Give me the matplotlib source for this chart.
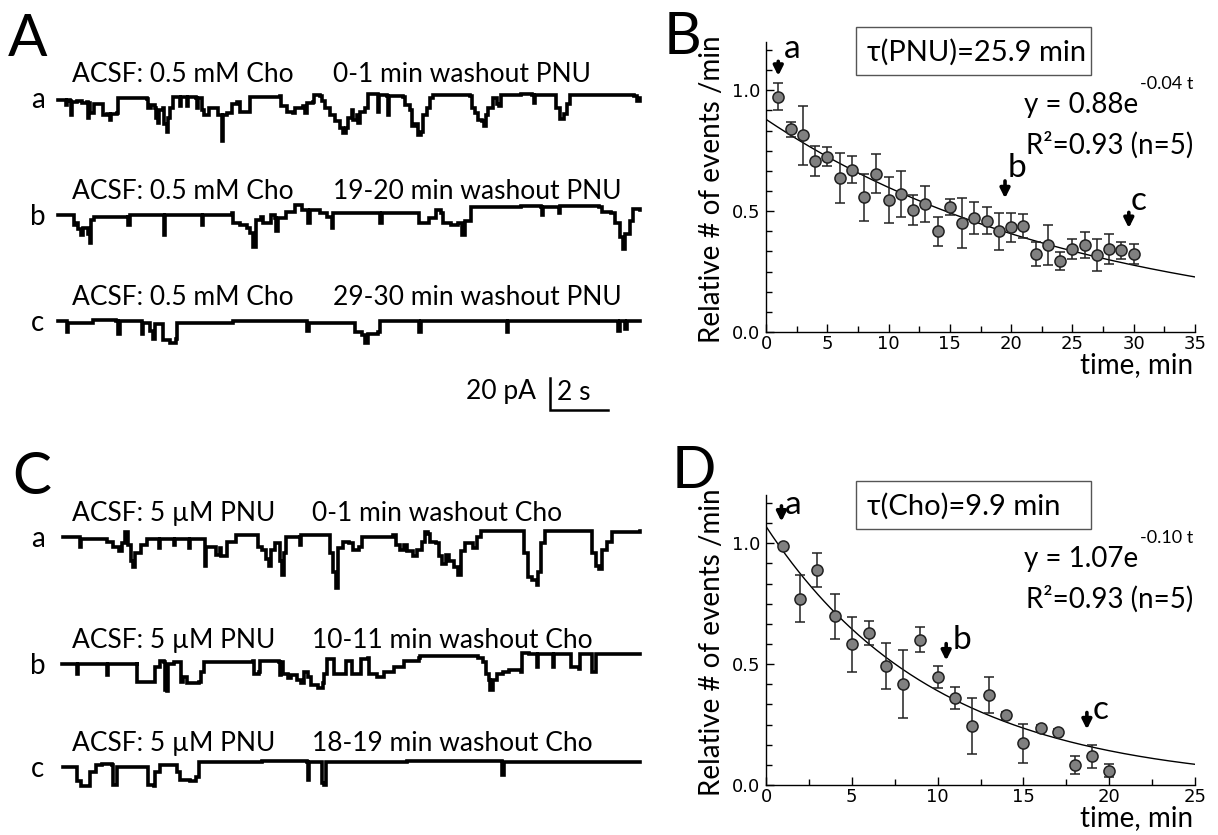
import numpy as np
import matplotlib
matplotlib.use("Agg")
import matplotlib.pyplot as plt
from matplotlib.ticker import MultipleLocator, AutoMinorLocator
from matplotlib.patches import Rectangle

# ---------------- data ----------------
# current traces, (time s, current pA), 0 = local baseline
trace_Aa = [(0.0, -1), (0.24, -1), (0.27, -4.5), (0.32, -1), (0.41, -2), (0.44, -10.5), (0.49, -2.5),
            (0.64, -2), (0.82, -3), (0.98, -2.5), (1.02, -12.5), (1.07, -3), (1.1, -9.5), (1.21, -9.5),
            (1.25, -4), (1.5, -4), (1.53, -10.5), (1.67, -10), (1.79, -13.5), (1.82, -10), (2.02, -9.5),
            (2.07, 0), (3.05, -0.5), (3.08, -6.5), (3.2, -4.5), (3.33, -6), (3.37, -12.5), (3.45, -15.5),
            (3.48, -7.5), (3.6, -6.5), (3.64, -16.5), (3.73, -21), (3.79, -12.5), (3.85, -6), (3.96, 0.5),
            (4.17, 0.5), (4.19, -5), (4.23, 0.5), (4.42, 0.5), (4.45, -5), (4.48, 0.5), (4.74, 0),
            (4.76, -6), (4.8, 0), (4.94, -0.5), (4.96, -7.5), (5.0, -10.5), (5.14, -10.5), (5.18, -6),
            (5.45, -6), (5.51, -10.5), (5.63, -27), (5.68, -10.5), (5.8, -9.5), (5.97, -4), (6.14, -2.5),
            (6.25, -8.5), (6.5, -9), (6.6, 0.5), (7.63, 1), (7.65, -5), (7.86, -8.5), (8.09, -9.5),
            (8.14, -6), (8.43, -5), (8.49, -9.5), (8.54, -3), (8.75, -2.5), (8.8, 2), (9.0, 1), (9.06, -2),
            (9.18, -6), (9.35, -10.5), (9.52, -14.5), (9.69, -19), (9.81, -22), (9.9, -19), (9.98, -12.5),
            (10.09, -7.5), (10.15, -13.5), (10.26, -10.5), (10.32, -15.5), (10.38, -8.5), (10.55, -6),
            (10.67, 2.5), (10.95, 2.5), (10.99, -8.5), (11.03, 2), (11.3, 1.5), (11.33, -10.5), (11.38, 1),
            (11.87, 0.5), (11.92, -4.5), (12.1, -7.5), (12.16, -17.5), (12.27, -16.5), (12.38, -23),
            (12.49, -21), (12.56, -10.5), (12.67, -6), (12.78, 0), (12.9, 2), (14.16, 1.5), (14.22, -6),
            (14.34, -9.5), (14.45, -13.5), (14.57, -14.5), (14.64, -17.5), (14.71, -10.5), (14.79, -6),
            (14.9, -6), (14.96, 0), (15.07, -4), (15.17, -5), (15.24, 2), (15.9, 2.5), (16.3, 2),
            (16.35, -3), (16.4, 2), (17.0, 2), (17.1, -6), (17.25, -13), (17.4, -10), (17.5, -4),
            (17.6, 2), (19.8, 1.5), (19.9, -2), (20.0, 0)]
trace_Ab = [(0.0, 0), (0.53, 0), (0.55, -6), (0.64, -5), (0.7, -9), (0.8, -12.5), (0.86, -8), (1.03, -12),
            (1.1, -17.5), (1.15, -3), (1.25, -1), (2.4, 0), (2.42, -6), (2.46, 0), (3.62, 0), (3.64, -12.5),
            (3.68, 0), (4.93, 0), (4.95, -6), (4.99, 0), (5.97, 1), (6.03, -5), (6.25, -6), (6.48, -8),
            (6.6, -11), (6.71, -20), (6.8, -3), (6.97, -1), (7.05, -5), (7.28, -5), (7.33, 0), (7.45, -2),
            (7.5, -10), (7.56, -2), (7.85, 2), (8.07, 2), (8.15, 6), (8.34, 6), (8.38, 3), (8.54, 3),
            (8.6, -5), (8.66, 3), (8.95, 3), (9.0, 1), (9.24, -1), (9.4, -8), (9.46, 1), (11.06, 1),
            (11.08, -5), (11.12, 1), (12.36, 1), (12.4, -5), (12.67, -5), (12.74, -2), (12.95, -2),
            (13.0, 3), (13.16, 1), (13.24, -5), (13.5, -6), (13.75, -5), (13.9, -12.5), (14.0, -4),
            (14.1, -4), (14.2, 5), (15.9, 5.5), (16.6, 5), (16.63, 0), (16.66, 5), (17.2, 5.5),
            (17.23, 1), (17.26, 5.5), (18.6, 5), (18.7, 2), (19.0, 1), (19.15, -5), (19.3, -14),
            (19.4, -21), (19.5, -12), (19.65, -4), (19.75, 4), (20.0, 3)]
trace_Ac = [(0.0, 0), (0.2, 0), (0.3, -7), (0.36, -1), (1.2, 0.5), (2.0, 0), (2.07, -8), (2.12, 0),
            (2.83, 0), (2.87, -8), (2.92, -1), (3.09, -1), (3.15, -6), (3.28, -11), (3.33, -2),
            (3.57, -2), (3.62, -12), (3.85, -14), (4.05, -11), (4.1, -1), (6.0, 0), (8.55, -1),
            (8.57, -6), (8.62, -1), (10.2, -1), (10.22, -7), (10.45, -9), (10.55, -14), (10.65, -8),
            (11.0, -7), (11.07, 0), (12.4, 0), (12.42, -7), (12.46, 0), (15.42, 0), (15.44, -7),
            (15.48, 0), (19.2, 0), (19.25, -6), (19.3, 0), (19.45, 0), (19.5, -5), (19.55, 0), (20.0, 0)]
trace_Ca = [(0.18, 0), (0.75, -1), (0.77, -6), (0.8, -1), (1.67, -3), (1.83, -3), (1.9, -6), (2.1, -9),
            (2.2, -4), (2.3, 3), (2.4, -5), (2.5, -15), (2.57, -19), (2.65, -10), (2.86, -5), (3.05, -1),
            (3.45, -1), (3.47, -7), (3.5, -1), (3.96, -1), (3.98, -5), (4.02, -1), (4.48, -1), (4.5, -7),
            (4.54, -1), (5.0, -1), (5.05, -18), (5.1, -6), (5.35, -6), (5.42, -11), (5.55, -7), (5.6, -12),
            (5.75, -12), (5.82, -3), (6.02, -3), (6.1, 1), (6.83, 1), (6.88, -6), (7.0, -8), (7.15, -14),
            (7.25, -18), (7.32, -8), (7.45, -4), (7.55, -4), (7.62, -15), (7.7, -24), (7.78, -10),
            (7.85, 0), (8.3, 1), (8.32, -5), (8.36, 1), (9.3, 1), (9.36, -10), (9.45, -22), (9.55, -32),
            (9.62, -7), (9.8, -3), (10.0, -4), (10.15, -8), (10.35, -6), (10.45, 0), (11.5, 1),
            (11.6, -5), (11.75, -8), (11.88, -5), (12.0, -9), (12.2, -12), (12.35, -8), (12.5, -3),
            (12.6, 3), (12.72, 2), (12.8, -3), (13.0, -4), (13.1, -12), (13.2, -17), (13.35, -11),
            (13.45, -15), (13.6, -19), (13.75, -24), (13.85, -9), (14.0, -4), (14.15, -4), (14.25, -7),
            (14.4, 0), (14.55, 4), (15.9, 4), (16.0, -10), (16.15, -25), (16.3, -27), (16.45, -30),
            (16.5, -22), (16.6, -4), (16.75, 4), (18.3, 4), (18.35, -10), (18.5, -18), (18.6, -20),
            (18.7, -8), (18.85, -3), (19.05, 3), (20.0, 4)]
trace_Cb = [(0.13, 0), (0.64, 0), (0.66, -6), (0.7, 0), (1.67, 0), (1.69, -7), (1.73, 0), (2.7, 1),
            (2.73, -11), (3.3, -11), (3.35, -2), (3.5, 2), (3.65, 1), (3.68, -16), (3.74, -17), (3.78, 0),
            (4.0, 1), (4.2, 1), (4.24, -11), (4.3, -8), (4.45, -12), (4.85, -11), (4.9, -5), (5.0, 1),
            (6.7, 2), (6.73, -6), (6.9, -5), (6.95, 2), (7.6, 1), (7.62, -7), (7.68, 1), (7.72, -6),
            (7.9, -9), (8.0, -7), (8.2, -10), (8.35, -12), (8.45, -5), (8.6, -8), (8.7, -13), (8.95, -15),
            (9.1, -12), (9.15, -6), (9.25, 3), (9.45, 3), (9.5, -6), (9.82, -6), (9.88, 2), (10.05, 2),
            (10.1, -6), (10.35, -6), (10.4, 3), (10.65, 4), (10.7, -6), (10.95, -8), (11.2, -5),
            (11.55, -2), (11.9, 2), (12.4, 4), (12.45, 5), (14.45, 4), (14.6, 1), (14.7, -6), (14.8, -10),
            (14.85, -16), (14.95, -10), (15.1, -6), (15.3, -5), (15.5, -4), (15.9, -5), (15.95, 7),
            (16.2, 6), (16.4, 6), (16.45, -2), (16.5, 6), (16.95, 6), (17.0, -2), (17.05, 6), (17.6, 6),
            (17.62, -2), (17.9, -3), (17.95, 6), (18.3, 6), (18.35, -5), (18.45, -5), (18.5, 6), (20.0, 6)]
trace_Cc = [(0.18, 0), (0.6, 0), (0.65, -9), (0.8, -12), (1.05, -12), (1.1, -3), (1.3, 1), (1.5, 2),
            (1.85, 1), (1.88, -11), (2.0, -11), (2.03, 0), (3.05, 0), (3.1, -11), (3.3, -12), (3.35, -3),
            (3.5, 1), (4.0, 1), (4.1, -3), (4.2, -8), (4.55, -9), (4.75, -6), (4.85, 3), (7.0, 3.5),
            (8.55, 3), (8.58, -8), (8.62, 3), (9.05, 3), (9.08, -10), (9.15, -11), (9.2, 3), (12.0, 3.5),
            (15.25, 3), (15.27, -5), (15.31, 3), (20.0, 3)]

label_A = [("ACSF: 0.5 mM Cho", "0-1 min washout PNU"),
           ("ACSF: 0.5 mM Cho", "19-20 min washout PNU"),
           ("ACSF: 0.5 mM Cho", "29-30 min washout PNU")]
label_C = [("ACSF: 5 \u00b5M PNU", "0-1 min washout Cho"),
           ("ACSF: 5 \u00b5M PNU", "10-11 min washout Cho"),
           ("ACSF: 5 \u00b5M PNU", "18-19 min washout Cho")]

# panel B: washout of PNU
B_t = [1, 2, 3, 4, 5, 6, 7, 8, 9, 10, 11, 12, 13, 14, 15, 16, 17, 18, 19, 20,
       21, 22, 23, 24, 25, 26, 27, 28, 29, 30]
B_y = [0.974, 0.838, 0.814, 0.706, 0.726, 0.637, 0.672, 0.557, 0.655, 0.547,
       0.571, 0.504, 0.530, 0.416, 0.517, 0.450, 0.472, 0.461, 0.416, 0.434,
       0.439, 0.323, 0.359, 0.294, 0.343, 0.359, 0.319, 0.343, 0.339, 0.323]
B_err = [0.057, 0.033, 0.122, 0.062, 0.040, 0.103, 0.055, 0.096, 0.081, 0.094,
         0.097, 0.062, 0.073, 0.060, 0.034, 0.103, 0.068, 0.055, 0.075, 0.060,
         0.048, 0.051, 0.083, 0.039, 0.040, 0.054, 0.066, 0.062, 0.035, 0.042]
B_fit = (0.88, 25.9)

# panel D: washout of choline
D_t = [1, 2, 3, 4, 5, 6, 7, 8, 9, 10, 11, 12, 13, 14, 15, 16, 17, 18, 19, 20]
D_y = [0.988, 0.770, 0.891, 0.698, 0.583, 0.630, 0.493, 0.417, 0.602, 0.447,
       0.359, 0.244, 0.374, 0.288, 0.173, 0.235, 0.219, 0.084, 0.118, 0.060]
D_err = [0.010, 0.097, 0.071, 0.094, 0.114, 0.050, 0.094, 0.141, 0.051, 0.044,
         0.046, 0.116, 0.074, 0.015, 0.080, 0.012, 0.012, 0.037, 0.046, 0.028]
D_fit = (1.07, 9.9)

# ---------------- figure ----------------
W, H = 1218, 835
fig = plt.figure(figsize=(W / 100, H / 100), dpi=100)
FONT = ['Lato', 'DejaVu Sans']


def fx(px):
    return px / W


def fy(py):
    return 1 - py / H


def ftext(px, py, s, size, **kw):
    kw.setdefault('family', FONT)
    return fig.text(fx(px), fy(py), s, fontsize=size, **kw)


# ---- traces (left) ----
PX_S, PX_PA, T0 = 29.1, 1.6, 58
axt = fig.add_axes([0, 0, fx(660), 1])
axt.set_xlim(-T0 / PX_S, (660 - T0) / PX_S)
axt.set_ylim(-H / PX_PA, 0)
axt.axis('off')

traces = [trace_Aa, trace_Ab, trace_Ac, trace_Ca, trace_Cb, trace_Cc]
base_px = [98, 215, 321, 537, 664, 767]
for tr, b in zip(traces, base_px):
    t, v = np.array(tr).T
    axt.plot(t, v - b / PX_PA, color='k', lw=2.6, drawstyle='steps-post',
             solid_joinstyle='miter')

# scale bar 20 pA / 2 s
bar_t0, bar_y = 16.9, -410 / PX_PA
axt.plot([bar_t0, bar_t0, bar_t0 + 2], [bar_y + 20, bar_y, bar_y], color='k', lw=1.8,
         solid_joinstyle='miter')
ftext(536, 392, "20 pA", 19, ha='right', va='center')
ftext(557, 392, "2 s", 19, ha='left', va='center')

# panel letters
for px, py, ch in [(8, 56, "A"), (12, 494, "C"), (664, 54, "B"), (672, 488, "D")]:
    ftext(px, py, ch, 42, va='baseline')

for labels, bases, x2 in [(label_A, base_px[:3], 333), (label_C, base_px[3:], 312)]:
    for (l1, l2), b, ch in zip(labels, bases, "abc"):
        ftext(72, b - 16, l1, 19, va='baseline')
        ftext(x2, b - 16, l2, 19, va='baseline')
        ftext(38, b + 2, ch, 20, ha='center', va='center')


# ---- scatter panels (right) ----
def panel(rect, t, y, err, fit, xmax, tau_txt, eq_txt, sup_txt, box_py, arrows):
    ax = fig.add_axes(rect)
    tt = np.linspace(0, xmax, 200)
    ax.plot(tt, fit[0] * np.exp(-tt / fit[1]), color='k', lw=1.0, zorder=2)
    ax.errorbar(t, y, yerr=err, fmt='none', ecolor='#222222', elinewidth=1.1, capsize=3.5,
                capthick=1.1, zorder=3)
    ax.plot(t, y, 'o', ms=8, mfc='#808080', mec='#202020', mew=1.1, zorder=4)
    ax.set_xlim(0, xmax)
    ax.set_ylim(0, 1.2)
    ax.xaxis.set_major_locator(MultipleLocator(5))
    ax.xaxis.set_minor_locator(AutoMinorLocator(2))
    ax.yaxis.set_major_locator(MultipleLocator(0.5))
    ax.yaxis.set_minor_locator(AutoMinorLocator(6))
    ax.yaxis.set_major_formatter(plt.FuncFormatter(lambda v, p: "%.1f" % v))
    ax.spines['top'].set_visible(False)
    ax.spines['right'].set_visible(False)
    for s in ('left', 'bottom'):
        ax.spines[s].set_linewidth(1.0)
    ax.tick_params(which='both', direction='in', labelsize=13, width=1.0)
    ax.tick_params(which='major', length=6)
    ax.tick_params(which='minor', length=4)
    ax.tick_params(axis='x', pad=2)
    ax.tick_params(axis='y', pad=4)
    ax.patch.set_alpha(0)
    for xa, ytip, ytail, ch, xl, yl in arrows:
        ax.annotate('', xy=(xa, ytip), xytext=(xa, ytail),
                    arrowprops=dict(arrowstyle='-|>', color='k', lw=2.6, mutation_scale=14,
                                    shrinkA=0, shrinkB=0))
        ax.text(xl, yl, ch, fontsize=24, family=FONT, ha='center', va='center')
    top = box_py
    fig.patches.append(Rectangle((fx(856), fy(top + 48)), fx(1091) - fx(856), fy(top) - fy(top + 48),
                                 transform=fig.transFigure, fill=False, ec='#555555', lw=1.0))
    ftext(867, top + 25, tau_txt, 21, va='center')
    ftext(1138, top + 78, eq_txt, 20, ha='right', va='center')
    ftext(1140, top + 57, sup_txt, 13, ha='left', va='center')
    ftext(1193, top + 118, "R\u00b2=0.93 (n=5)", 20, ha='right', va='center')
    return ax


L, R = 766, 1195
axB = panel([fx(L), fy(332), fx(R) - fx(L), fy(42) - fy(332)], B_t, B_y, B_err, B_fit, 35,
            "\u03c4(PNU)=25.9 min", "y = 0.88e", "-0.04 t", 27,
            [(1.0, 1.06, 1.12, 'a', 2.1, 1.17), (19.5, 0.553, 0.625, 'b', 20.5, 0.68),
             (29.6, 0.43, 0.495, 'c', 30.4, 0.54)])
axD = panel([fx(L), fy(785), fx(R) - fx(L), fy(495) - fy(785)], D_t, D_y, D_err, D_fit, 25,
            "\u03c4(Cho)=9.9 min", "y = 1.07e", "-0.10 t", 481,
            [(0.9, 1.09, 1.155, 'a', 1.6, 1.16), (10.5, 0.515, 0.585, 'b', 11.4, 0.6),
             (18.7, 0.23, 0.3, 'c', 19.5, 0.31)])

# axis titles
for top, bot, tb in [(42, 332, 373), (495, 785, 826)]:
    ftext(712, (top + bot) / 2 + 2, "Relative # of events /min", 20, rotation=90,
          ha='center', va='center')
    ftext(1193, tb, "time, min", 20, ha='right', va='baseline')

fig.savefig("out.png", dpi=100)
